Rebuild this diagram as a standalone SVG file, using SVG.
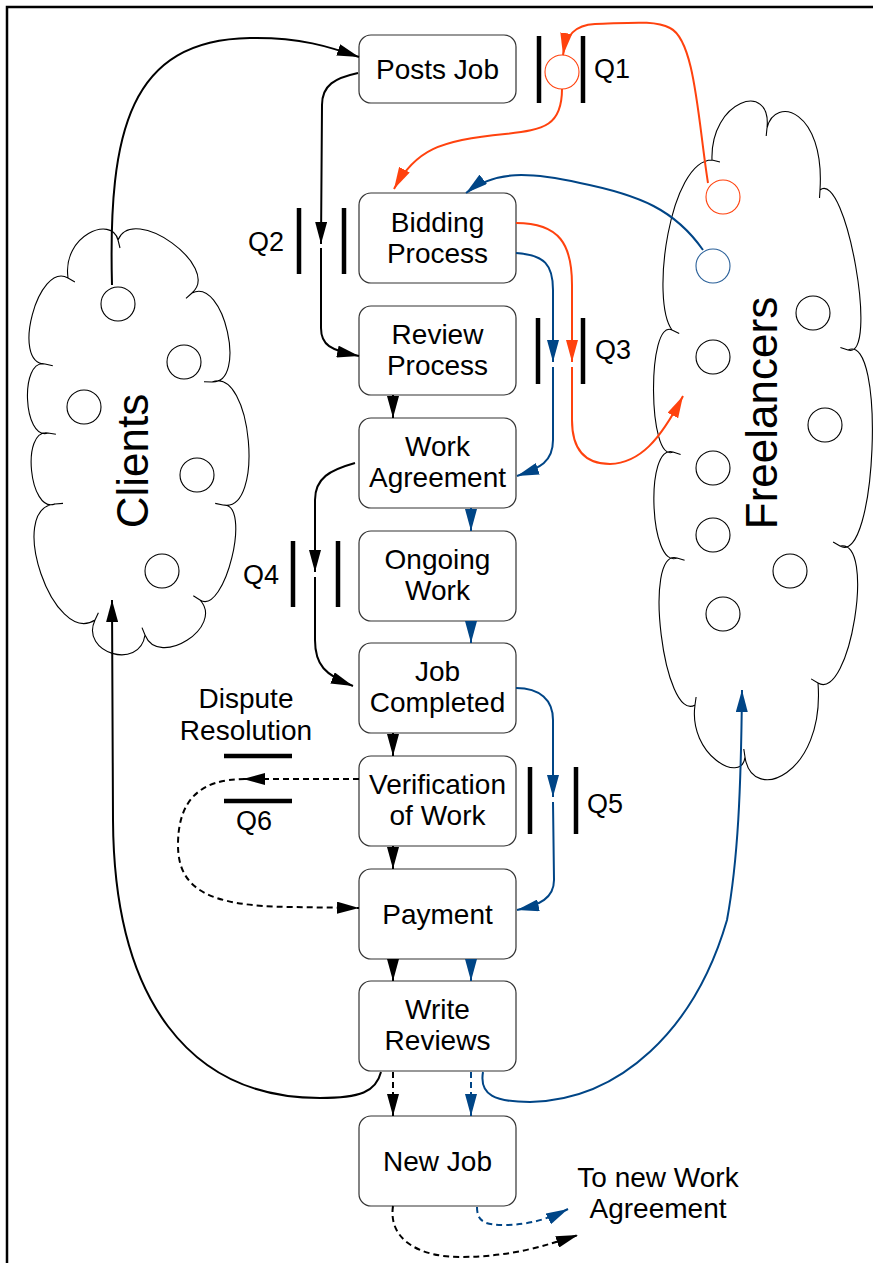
<svg xmlns="http://www.w3.org/2000/svg" width="873" height="1263" viewBox="0 0 873 1263">
<style>
.box{fill:#fff;stroke:#333;stroke-width:1.2}
.t{font-family:"Liberation Sans",Arial,sans-serif;font-size:28px;fill:#000;text-anchor:middle}
.q{font-family:"Liberation Sans",Arial,sans-serif;font-size:27px;fill:#000}
.big{font-family:"Liberation Sans",Arial,sans-serif;font-size:44px;fill:#000;text-anchor:middle}
.cloud{fill:none;stroke:#000;stroke-width:1.1}
.dot{fill:#fff;stroke:#000;stroke-width:1.1}
.bar{stroke:#000;stroke-width:4.5}
.k{fill:none;stroke:#000;stroke-width:2}
.b{fill:none;stroke:#004586;stroke-width:2}
.o{fill:none;stroke:#ff420e;stroke-width:2}
.d{stroke-dasharray:6,4}
</style>
<defs>
<marker id="ak" markerUnits="userSpaceOnUse" markerWidth="22" markerHeight="12" viewBox="0 0 22 12" refX="22" refY="6" orient="auto"><path d="M0,0 L22,6 L0,12 z" fill="#000"/></marker>
<marker id="ab" markerUnits="userSpaceOnUse" markerWidth="22" markerHeight="12" viewBox="0 0 22 12" refX="22" refY="6" orient="auto"><path d="M0,0 L22,6 L0,12 z" fill="#004586"/></marker>
<marker id="ao" markerUnits="userSpaceOnUse" markerWidth="22" markerHeight="12" viewBox="0 0 22 12" refX="22" refY="6" orient="auto"><path d="M0,0 L22,6 L0,12 z" fill="#ff420e"/></marker>
</defs>
<rect width="873" height="1263" fill="#fff"/>
<path d="M7,1263 L7,7 L873,7" fill="none" stroke="#000" stroke-width="2.5"/>

<g id="clients">
<path class="cloud" d="M68,278 C62,235 112,215 118,240 l2,8 M118,240 C133.1,203.2 221.9,266.8 192,293 l-6,5.3 M192,293 C223.9,276.5 247.9,383.3 212,382 l-8,-0.3 M212,382 C252,365.9 265.2,513.7 223,505 l-7.8,-1.6 M223,505 C252.5,502.1 224.9,616.1 200,600 l-6.7,-4.3 M200,600 C224.8,626.9 158.8,668.9 145,635 l-3,-7.4 M145,635 C139.7,671 79.7,653 95,620 l3.4,-7.3 M95,620 C53.6,647.2 5.6,508 55,504 l8,-0.6 M55,504 C29.1,513.7 20.7,428.5 48,433 l7.9,1.3 M48,433 C23,441 19.4,358.2 45,364 l7.8,1.8 M45,364 C10.5,364 38.1,260.8 68,278 l6.9,4"/>
<circle class="dot" cx="118" cy="304" r="17"/>
<circle class="dot" cx="184" cy="362" r="17"/>
<circle class="dot" cx="84" cy="407" r="17"/>
<circle class="dot" cx="197" cy="475" r="17"/>
<circle class="dot" cx="162" cy="571" r="17"/>
<text class="big" transform="translate(148,461) rotate(-90)">Clients</text>
</g>

<g id="freelancers">
<path class="cloud" d="M712,160 C710,100 772,80 767,128 l-0.8,8 M767,128 C775,95 825,110 820,190 l-0.5,8 M820,190 C846.1,169.2 879.7,360.8 848,350 l-7.6,-2.6 M848,350 C886.1,331.9 876.5,567.1 840,546 l-6.9,-4 M840,546 C876.4,537.8 850,702.2 818,683 l-6.9,-4.1 M818,683 C825,775 752,805 745,757 l-1.2,-8 M745,757 C742,785 688,755 695,705 l1.1,-8 M695,705 C663.7,723.8 642.1,547.4 677,558 l7.6,2.3 M677,558 C649.4,569.7 644.6,442.5 673,452 l7.6,2.5 M673,452 C647.7,464.2 646.7,317.8 672,330 l7.2,3.5 M672,330 C650,300 670,160 712,160 l8,2"/>
<circle cx="723" cy="197" r="17" fill="#fff" stroke="#ff420e" stroke-width="1.1"/>
<circle cx="713" cy="266" r="17" fill="#fff" stroke="#2a6099" stroke-width="1.1"/>
<circle class="dot" cx="713" cy="357" r="17"/>
<circle class="dot" cx="813" cy="313" r="17"/>
<circle class="dot" cx="825" cy="425" r="17"/>
<circle class="dot" cx="713" cy="468" r="17"/>
<circle class="dot" cx="713" cy="535" r="17"/>
<circle class="dot" cx="790" cy="571" r="17"/>
<circle class="dot" cx="723" cy="614" r="17"/>
<text class="big" transform="translate(777,413) rotate(-90)">Freelancers</text>
</g>

<g id="posts-job"><rect class="box" x="359" y="35" width="157" height="68" rx="12"/><text class="t" x="437.5" y="79">Posts Job</text></g>
<g id="bidding-process"><rect class="box" x="359" y="193" width="157" height="90" rx="12"/><text class="t" x="437.5" y="232">Bidding</text><text class="t" x="437.5" y="263">Process</text></g>
<g id="review-process"><rect class="box" x="359" y="306" width="157" height="89" rx="12"/><text class="t" x="437.5" y="344">Review</text><text class="t" x="437.5" y="375">Process</text></g>
<g id="work-agreement"><rect class="box" x="359" y="418" width="157" height="90" rx="12"/><text class="t" x="437.5" y="456">Work</text><text class="t" x="437.5" y="487">Agreement</text></g>
<g id="ongoing-work"><rect class="box" x="359" y="531" width="157" height="90" rx="12"/><text class="t" x="437.5" y="569">Ongoing</text><text class="t" x="437.5" y="600">Work</text></g>
<g id="job-completed"><rect class="box" x="359" y="643" width="157" height="90" rx="12"/><text class="t" x="437.5" y="681">Job</text><text class="t" x="437.5" y="712">Completed</text></g>
<g id="verification-of-work"><rect class="box" x="359" y="756" width="157" height="90" rx="12"/><text class="t" x="437.5" y="794">Verification</text><text class="t" x="437.5" y="825">of Work</text></g>
<g id="payment"><rect class="box" x="359" y="869" width="157" height="90" rx="12"/><text class="t" x="437.5" y="924">Payment</text></g>
<g id="write-reviews"><rect class="box" x="359" y="981" width="157" height="90" rx="12"/><text class="t" x="437.5" y="1019">Write</text><text class="t" x="437.5" y="1050">Reviews</text></g>
<g id="new-job"><rect class="box" x="359" y="1116" width="157" height="90" rx="12"/><text class="t" x="437.5" y="1171">New Job</text></g>

<g id="queues">
<line class="bar" x1="539" y1="36" x2="539" y2="103"/><line class="bar" x1="583" y1="36" x2="583" y2="103"/>
<circle cx="562" cy="72" r="17" fill="#fff" stroke="#ff420e" stroke-width="1.1"/>
<text class="q" x="594" y="78">Q1</text>
<line class="bar" x1="299" y1="208" x2="299" y2="274"/><line class="bar" x1="344" y1="208" x2="344" y2="274"/>
<text class="q" x="248" y="251">Q2</text>
<line class="bar" x1="538" y1="318" x2="538" y2="384"/><line class="bar" x1="583" y1="318" x2="583" y2="384"/>
<text class="q" x="595" y="359">Q3</text>
<line class="bar" x1="293" y1="541" x2="293" y2="607"/><line class="bar" x1="338" y1="541" x2="338" y2="607"/>
<text class="q" x="243" y="584">Q4</text>
<line class="bar" x1="530" y1="767" x2="530" y2="834"/><line class="bar" x1="576" y1="767" x2="576" y2="834"/>
<text class="q" x="587" y="813">Q5</text>
<line class="bar" x1="224" y1="756" x2="292" y2="756"/><line class="bar" x1="224" y1="801" x2="292" y2="801"/>
<text class="q" x="254" y="830" text-anchor="middle">Q6</text>
<text class="t" x="246" y="708">Dispute</text>
<text class="t" x="246" y="740">Resolution</text>
<text class="t" x="658" y="1187">To new Work</text>
<text class="t" x="658" y="1218">Agreement</text>
</g>

<g id="connectors">
<path class="k" d="M112,285 C108,130 130,40 250,38 C300,37 330,47 359,57" marker-end="url(#ak)"/>
<path class="k" d="M358,73 C335,78 322,85 322,105 L321,244" marker-end="url(#ak)"/>
<path class="k" d="M321,248 L321,328 C321,345 330,350 359,356" marker-end="url(#ak)"/>
<path class="o" d="M708,183 C698,120 695,40 670,28 C655,20 630,23 595,24 C575,25 566,35 563,55" marker-end="url(#ao)"/>
<path class="o" d="M562,89 C562,125 545,130 505,134 C440,140 415,150 394,189" marker-end="url(#ao)"/>
<path class="b" d="M703,250 C675,210 640,195 580,183 C530,172 495,170 466,193" marker-end="url(#ab)"/>
<path class="o" d="M516,223 C560,223 572,245 572,285 L572,362" marker-end="url(#ao)"/>
<path class="o" d="M572,367 L572,420 C572,450 585,464 610,464 C640,463 660,440 683,396" marker-end="url(#ao)"/>
<path class="b" d="M516,253 C545,255 553,265 553,290 L553,362" marker-end="url(#ab)"/>
<path class="b" d="M553,367 L553,440 C553,462 540,468 517,476" marker-end="url(#ab)"/>
<path class="k" d="M393,395 L393,418" marker-end="url(#ak)"/>
<path class="b" d="M471,508 L471,531" marker-end="url(#ab)"/>
<path class="b" d="M471,621 L471,643" marker-end="url(#ab)"/>
<path class="k" d="M355,463 C330,470 315,478 315,500 L315,572" marker-end="url(#ak)"/>
<path class="k" d="M315,577 L315,640 C315,665 325,675 353,686" marker-end="url(#ak)"/>
<path class="k" d="M393,733 L393,756" marker-end="url(#ak)"/>
<path class="k" d="M393,846 L393,869" marker-end="url(#ak)"/>
<path class="b" d="M516,688 C540,688 553,700 553,720 L553,797" marker-end="url(#ab)"/>
<path class="b" d="M553,802 L554,880 C554,898 540,905 517,910" marker-end="url(#ab)"/>
<path class="k d" d="M359,779 L243,779" marker-end="url(#ak)"/>
<path class="k d" d="M245,779 C200,779 178,800 178,845 C178,890 210,906 290,907 L359,908" marker-end="url(#ak)"/>
<path class="k" d="M393,959 L393,981" marker-end="url(#ak)"/>
<path class="b" d="M471,959 L471,981" marker-end="url(#ab)"/>
<path class="k" d="M381,1072 C376,1092 360,1098 320,1098 C190,1098 114,1000 113,820 L112,600" marker-end="url(#ak)"/>
<path class="b" d="M483,1072 C479,1095 495,1102 530,1102 C620,1100 695,1030 727,920 C738,860 741,790 742,690" marker-end="url(#ab)"/>
<path class="k d" d="M393,1072 L393,1116" marker-end="url(#ak)"/>
<path class="b d" d="M471,1072 L471,1116" marker-end="url(#ab)"/>
<path class="k d" d="M393,1206 C388,1240 420,1257 460,1257 C510,1257 545,1246 578,1235" marker-end="url(#ak)"/>
<path class="b d" d="M477,1207 C477,1222 485,1225 505,1225 C530,1225 550,1218 568,1209" marker-end="url(#ab)"/>
</g>
</svg>
